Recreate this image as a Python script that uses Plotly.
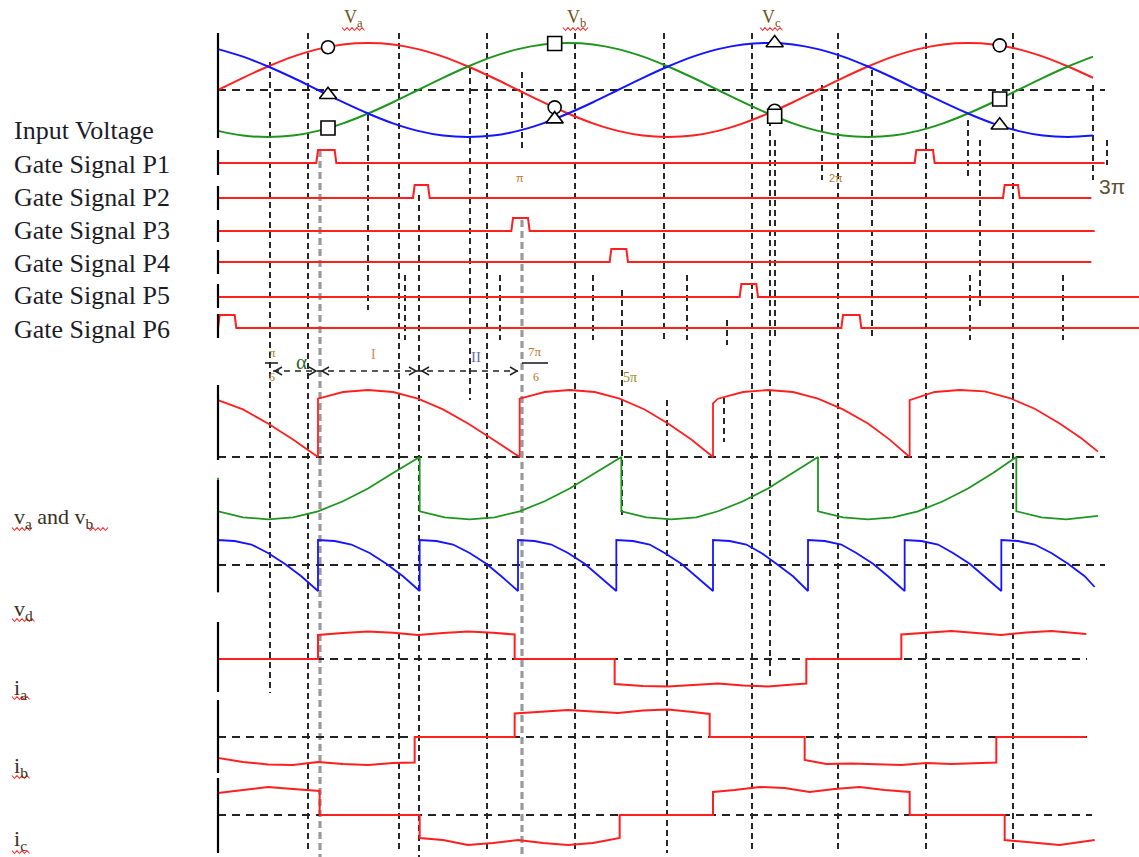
import plotly.graph_objects as go

W, H = 1139, 857
AX0 = 218.0            # pixel of 0 deg
PPD = 100.0 / 60.0     # pixels per degree

def xp(px):
    return px / W

def yp(py):
    return 1 - py / H

# ---------------- data (angles in degrees) ----------------
theta_in = [0, 15, 30, 45, 60, 75, 90, 105, 120, 135, 150, 165, 180, 195, 210, 225, 240, 255,
            270, 285, 300, 315, 330, 345, 360, 375, 390, 405, 420, 435, 450, 465, 480, 495, 510, 525]
va_in = [0, .26, .5, .71, .87, .97, 1, .97, .87, .71, .5, .26, 0, -.26, -.5, -.71, -.87, -.97,
         -1, -.97, -.87, -.71, -.5, -.26, 0, .26, .5, .71, .87, .97, 1, .97, .87, .71, .5, .26]
vb_in = [-.87, -.97, -1, -.97, -.87, -.71, -.5, -.26, 0, .26, .5, .71, .87, .97, 1, .97, .87, .71,
         .5, .26, 0, -.26, -.5, -.71, -.87, -.97, -1, -.97, -.87, -.71, -.5, -.26, 0, .26, .5, .71]
vc_in = [.87, .71, .5, .26, 0, -.26, -.5, -.71, -.87, -.97, -1, -.97, -.87, -.71, -.5, -.26, 0, .26,
         .5, .71, .87, .97, 1, .97, .87, .71, .5, .26, 0, -.26, -.5, -.71, -.87, -.97, -1, -.97]

marker_x = [66, 202, 334, 469]
marker_a = [.91, -.37, -.44, .95]
marker_b = [-.81, .99, -.56, -.19]
marker_c = [-.10, -.62, 1.0, -.75]

gate_names = ["P1", "P2", "P3", "P4", "P5", "P6"]
gate_on = [[59, 418], [117, 471], [176], [235], [313], [0, 374]]
gate_off = [[71, 430], [127, 481], [187], [246], [324], [11, 386]]
gate_end = [532, 524, 526, 524, 553, 553]

r_x = [0, 15, 30, 45, 60, 60, 75, 90, 105, 120, 135, 150, 165, 181, 181, 196, 211, 226, 241, 256,
       270, 284, 297, 297, 300, 315, 330, 345, 360, 375, 390, 403, 415, 415, 430, 445, 460, 475,
       490, 505, 518, 528]
r_y = [.85, .71, .5, .26, 0, .87, .97, 1, .97, .87, .71, .5, .26, 0, .87, .97, 1, .97, .87, .71,
       .5, .26, 0, .8, .87, .97, 1, .97, .87, .71, .5, .26, 0, .85, .97, 1, .98, .88, .72, .5, .28, .08]

g_x = [0, 0, 15, 30, 45, 60, 75, 90, 105, 121, 121, 136, 151, 166, 181, 196, 211, 226, 242, 242,
       257, 272, 287, 300, 315, 330, 345, 360, 360, 375, 390, 405, 420, 435, 450, 465, 479, 479,
       494, 509, 528]
g_y = [-.31, -.81, -.9, -.93, -.9, -.81, -.66, -.47, -.24, 0, -.81, -.9, -.93, -.9, -.81, -.66,
       -.47, -.24, 0, -.81, -.9, -.93, -.9, -.81, -.66, -.47, -.24, 0, -.81, -.9, -.93, -.9, -.81,
       -.66, -.47, -.24, 0, -.81, -.9, -.93, -.88]

b_x = [0, 0, 10, 20, 30, 40, 50, 60,
       60, 70, 80, 91, 101, 111, 121,
       121, 131, 141, 151, 161, 170, 180,
       180, 190, 200, 210, 220, 229, 239,
       239, 249, 259, 268, 278, 287, 297,
       297, 307, 317, 326, 335, 345, 354,
       354, 364, 374, 383, 393, 402, 412,
       412, 422, 432, 441, 451, 460, 470,
       470, 480, 490, 500, 510, 520, 526]
b_y = [-1.1, 1.0, .96, .82, .48, .05, -.45, -1.04,
       1.0, .96, .82, .48, .05, -.45, -1.04,
       1.0, .96, .82, .48, .05, -.45, -1.04,
       1.0, .96, .82, .48, .05, -.45, -1.04,
       1.0, .96, .82, .48, .05, -.45, -1.04,
       1.0, .96, .82, .48, .05, -.45, -1.04,
       1.0, .96, .82, .48, .05, -.45, -1.04,
       1.0, .96, .82, .48, .05, -.45, -1.04,
       1.0, .96, .82, .48, .05, -.45, -.88]

ia_x = [0, 0, 60, 60, 75, 90, 105, 120, 135, 150, 165, 178, 178, 238, 238, 255, 270, 285, 300,
        315, 330, 345, 353, 353, 410, 410, 425, 440, 455, 470, 485, 500, 521]
ia_y = [-0.84, 0, 0, 0.96, 1.04, 1.1, 1.05, 0.96, 1.04, 1.1, 1.05, 0.98, 0, 0, -1.0, -1.08, -1.1,
        -1.04, -0.98, -1.06, -1.1, -1.02, -0.98, 0, 0, 0.98, 1.06, 1.12, 1.04, 0.96, 1.06, 1.12, 1.0]
ib_x = [0, 0, 15, 30, 45, 60, 75, 90, 105, 118, 118, 178, 178, 195, 210, 225, 240, 255, 270, 285,
        295, 295, 352, 352, 365, 380, 395, 410, 425, 440, 467, 467, 521]
ib_y = [0, -0.84, -1.0, -1.1, -1.12, -1.0, -1.08, -1.12, -1.04, -1.02, 0, 0, 0.94, 1.02, 1.08,
        1.02, 0.96, 1.06, 1.1, 1.0, 0.92, 0, 0, -0.92, -1.08, -1.06, -1.1, -1.12, -1.04, -1.08,
        -1.02, 0, 0]
ic_x = [0, 15, 30, 45, 61, 61, 121, 121, 135, 150, 165, 180, 195, 210, 225, 241, 241, 297, 297,
        310, 325, 340, 355, 370, 385, 400, 415, 415, 472, 472, 490, 505, 526]
ic_y = [0.88, 1.0, 1.12, 1.04, 0.96, 0, 0, -0.92, -1.0, -1.2, -1.12, -1.0, -1.12, -1.2, -1.12,
        -0.92, 0, 0, 0.92, 1.0, 1.12, 1.08, 0.92, 1.04, 1.12, 1.0, 0.92, 0, 0, -1.0, -1.1, -1.2, -1.0]

# ---------------- styling / layout ----------------
RED, GREEN, BLUE = "#ff1f1f", "#1f951f", "#1414ff"
SERIF = "Liberation Serif"

fig = go.Figure()

# panel definitions: axis name -> (zero pixel row, pixels per unit)
panels = {
    "y": (90, 47),
    "y2": (163, 13), "y3": (198, 13), "y4": (231, 13),
    "y5": (262, 13), "y6": (297, 13), "y7": (328, 13),
    "y8": (457, 67),
    "y9": (565, 25),
    "y10": (659, 25), "y11": (737, 25), "y12": (815, 25),
}

def add_line(x, y, color, axis, width=2.0, shape="linear"):
    fig.add_trace(go.Scatter(x=x, y=y, mode="lines", yaxis=axis, hoverinfo="skip",
                             line=dict(color=color, width=width, shape=shape), showlegend=False))

# input voltages
add_line(theta_in, va_in, RED, "y", shape="spline")
add_line(theta_in, vb_in, GREEN, "y", shape="spline")
add_line(theta_in, vc_in, BLUE, "y", shape="spline")
for vals, sym, size in [(marker_a, "circle", 13), (marker_b, "square", 14), (marker_c, "triangle-up", 15)]:
    fig.add_trace(go.Scatter(x=marker_x, y=vals, mode="markers", yaxis="y", hoverinfo="skip",
                             marker=dict(symbol=sym, size=size, color="white",
                                         line=dict(color="black", width=1.6)),
                             showlegend=False))

# gate signals
for i in range(6):
    gx, gy = [0], [0]
    for s, e in zip(gate_on[i], gate_off[i]):
        gx += [s, s + 1, e - 1, e]
        gy += [0, 1, 1, 0]
    gx.append(gate_end[i])
    gy.append(0)
    add_line(gx, gy, RED, "y%d" % (i + 2), width=2.0)

# output waveforms
add_line(r_x, r_y, RED, "y8", width=1.8)
add_line(g_x, g_y, GREEN, "y8", width=1.8)
add_line(b_x, b_y, BLUE, "y9", width=1.8)
add_line(ia_x, ia_y, RED, "y10", width=2.0)
add_line(ib_x, ib_y, RED, "y11", width=2.0)
add_line(ic_x, ic_y, RED, "y12", width=2.0)

layout_axes = {}
for name, (z, s) in panels.items():
    key = "yaxis" if name == "y" else "yaxis" + name[1:]
    ax = dict(domain=[0, 1], range=[-(H - z) / s, z / s], visible=False, fixedrange=True)
    if name != "y":
        ax["overlaying"] = "y"
    layout_axes[key] = ax

shapes = []

def vline(px, y0, y1, color="#111", width=1.8, dash="6px,4px"):
    shapes.append(dict(type="line", xref="paper", yref="paper", x0=xp(px), x1=xp(px),
                       y0=yp(y0), y1=yp(y1), line=dict(color=color, width=width, dash=dash),
                       layer="below"))

def hline(py, x0, x1, color="#222", width=2.0, dash="8px,6px"):
    shapes.append(dict(type="line", xref="paper", yref="paper", x0=xp(x0), x1=xp(x1),
                       y0=yp(py), y1=yp(py), line=dict(color=color, width=width, dash=dash),
                       layer="below"))

# vertical dashed guide lines (pixel positions)
guides = [(270, 62, 693), (308, 33, 853), (368, 115, 310), (399, 33, 853), (405, 275, 340),
          (419, 195, 857), (470, 68, 400), (487, 33, 853), (500, 275, 340), (522, 72, 150),
          (575, 33, 853), (593, 275, 340), (622, 290, 515), (664, 33, 340), (667, 400, 853),
          (687, 275, 340), (724, 398, 442), (727, 320, 345), (752, 33, 853), (770, 110, 680),
          (775, 140, 340), (822, 85, 180), (838, 33, 853), (872, 70, 340), (926, 33, 853),
          (968, 120, 180), (970, 275, 340), (980, 140, 310), (1013, 33, 853), (1063, 275, 340),
          (1093, 85, 180), (1107, 140, 165)]
for g in guides:
    vline(*g)
# grey thick dashed lines
vline(320, 150, 857, color="#9a9a9a", width=3.2, dash="7px,4px")
vline(522, 220, 857, color="#9a9a9a", width=3.2, dash="7px,4px")

# horizontal dashed zero lines
for py, x1 in [(90, 1105), (457, 1105), (565, 1105), (659, 1087), (737, 1087), (815, 1092)]:
    hline(py, 218, x1)
# dashed arrow baseline
hline(371, 273, 518, width=1.6, dash="6px,5px")

# solid black axis pieces
for y0, y1 in [(33, 138), (150, 175), (186, 210), (220, 242), (250, 274), (284, 308), (314, 338),
               (385, 460), (480, 592), (622, 692), (700, 773), (778, 853)]:
    shapes.append(dict(type="line", xref="paper", yref="paper", x0=xp(218), x1=xp(218),
                       y0=yp(y0), y1=yp(y1), line=dict(color="black", width=2.2)))

# fraction bars
for x0, x1, py in [(265, 278, 363), (522, 548, 363)]:
    shapes.append(dict(type="line", xref="paper", yref="paper", x0=xp(x0), x1=xp(x1),
                       y0=yp(py), y1=yp(py), line=dict(color="#222", width=1.6)))

# arrow heads (open chevrons) on the interval line
for tip, direction in [(275, -1), (316, 1), (322, -1), (416, 1), (422, -1), (517, 1)]:
    back = tip - 7 * direction
    path = "M %.5f,%.5f L %.5f,%.5f L %.5f,%.5f" % (xp(back), yp(367), xp(tip), yp(371),
                                                    xp(back), yp(375))
    shapes.append(dict(type="path", xref="paper", yref="paper", path=path,
                       line=dict(color="#222", width=1.5)))

def squiggle(x0, x1, py):
    pts = []
    x, up = x0, True
    while x <= x1:
        pts.append((x, py - 1.5 if up else py + 1.5))
        x += 2.5
        up = not up
    path = "M " + " L ".join("%.5f,%.5f" % (xp(a), yp(b)) for a, b in pts)
    shapes.append(dict(type="path", xref="paper", yref="paper", path=path,
                       line=dict(color="#ff3030", width=1.1)))

for x0, x1, py in [(342, 366, 29), (563, 589, 29), (760, 784, 29),
                   (12, 32, 529), (88, 110, 529), (12, 35, 620), (12, 30, 698),
                   (12, 30, 777), (12, 30, 852)]:
    squiggle(x0, x1, py)

annotations = []

def txt(px, py, text, size, color="#1c1c28", family=SERIF, xanchor="center"):
    annotations.append(dict(x=xp(px), y=yp(py), xref="paper", yref="paper", text=text,
                            showarrow=False, xanchor=xanchor, yanchor="middle",
                            font=dict(size=size, color=color, family=family)))

txt(12, 131, "Input Voltage", 26, xanchor="left")
for i, (name, py) in enumerate(zip(gate_names, [165, 198, 231, 263, 296, 329])):
    txt(12, py, "Gate Signal " + name, 26, xanchor="left")

LBL = "#3a3222"
txt(12, 518, "v<sub>a</sub> and v<sub>b</sub>", 22, color=LBL, xanchor="left")
txt(12, 610, "v<sub>d</sub>", 22, color=LBL, xanchor="left")
txt(12, 689, "i<sub>a</sub>", 22, color=LBL, xanchor="left")
txt(12, 767, "i<sub>b</sub>", 22, color=LBL, xanchor="left")
txt(12, 840, "i<sub>c</sub>", 22, color=LBL, xanchor="left")

TOP = "#6e5316"
txt(353, 18, "V<sub>a</sub>", 18, color=TOP)
txt(576, 18, "V<sub>b</sub>", 18, color=TOP)
txt(771, 18, "V<sub>c</sub>", 18, color=TOP)

txt(1112, 187, "3π", 21, color="#5e5032", family="Liberation Sans")
txt(520, 178, "π", 11, color="#b08030", family="Liberation Sans")
txt(836, 178, "2π", 11, color="#b08030", family="Liberation Sans")

txt(272, 352, "π", 13, color="#b07a20")
txt(272, 377, "6", 12, color="#b07a20")
txt(301, 362, "α", 21, color="#2d6a2d")
txt(373, 355, "I", 14, color="#d08a60")
txt(476, 357, "II", 15, color="#6a6ab0")
txt(535, 351, "7π", 13, color="#b07a20")
txt(536, 377, "6", 12, color="#b07a20")
txt(630, 377, "5π", 14, color="#8a8a20")

fig.update_layout(
    width=W, height=H, margin=dict(l=0, r=0, t=0, b=0),
    paper_bgcolor="white", plot_bgcolor="white", showlegend=False,
    xaxis=dict(range=[-AX0 / PPD, (W - AX0) / PPD], visible=False, fixedrange=True),
    shapes=shapes, annotations=annotations,
    **layout_axes,
)

fig.write_html("out.html", config={"displayModeBar": False},
               post_script="document.body.style.margin='0';document.body.style.overflow='hidden';")
